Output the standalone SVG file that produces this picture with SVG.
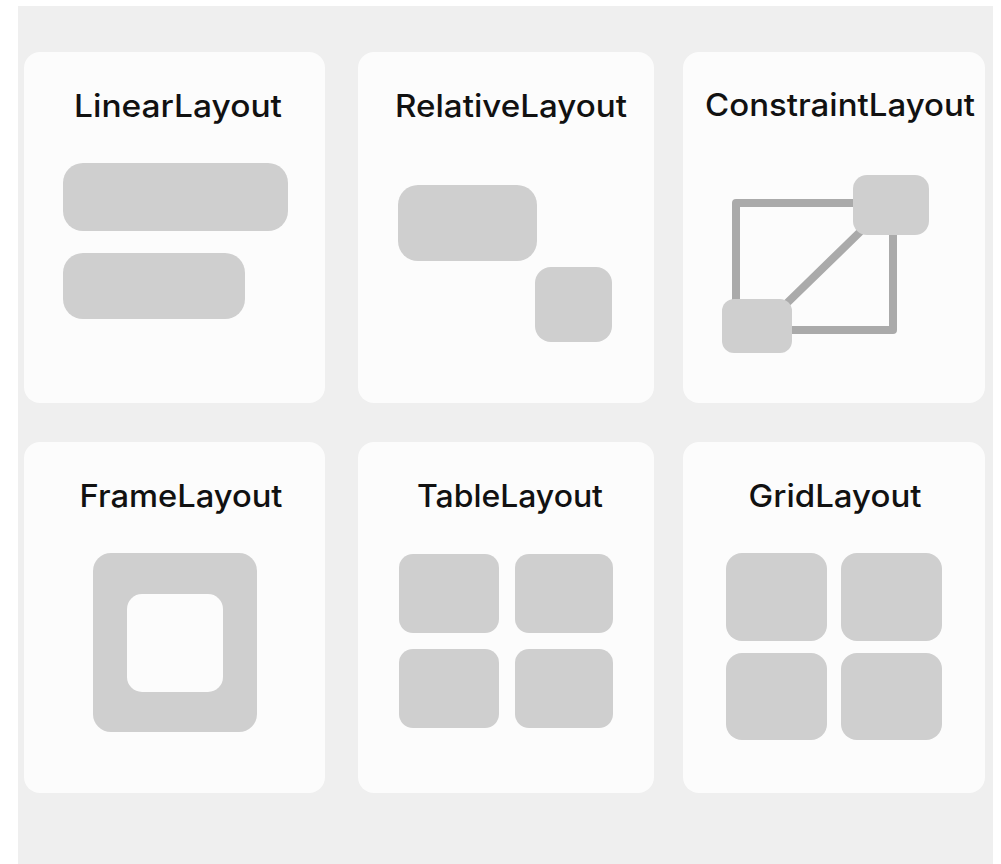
<svg xmlns="http://www.w3.org/2000/svg" width="1001" height="864" viewBox="0 0 1001 864">
<style>
.card{fill:#fcfcfc}
.box{fill:#cfcfcf}
.ttl{font-family:Inter,"Noto Sans","Liberation Sans",sans-serif;font-size:31px;font-weight:500;fill:#111;text-anchor:middle}
.ln{fill:none;stroke:#aaaaaa;stroke-width:8;stroke-linejoin:round;stroke-linecap:round}
</style>
<rect x="0" y="0" width="1001" height="864" fill="#ffffff"/>
<rect x="18" y="6" width="975" height="858" fill="#efefef"/>
<g id="linear">
<rect class="card" x="24" y="52" width="301" height="351" rx="16"/>
<text class="ttl" x="178" y="117" textLength="208" lengthAdjust="spacingAndGlyphs">LinearLayout</text>
<rect class="box" x="63" y="163" width="225" height="68" rx="20"/>
<rect class="box" x="63" y="253" width="182" height="66" rx="20"/>
</g>
<g id="relative">
<rect class="card" x="358" y="52" width="296" height="351" rx="16"/>
<text class="ttl" x="511" y="117" textLength="232" lengthAdjust="spacingAndGlyphs">RelativeLayout</text>
<rect class="box" x="398" y="185" width="139" height="76" rx="20"/>
<rect class="box" x="535" y="267" width="77" height="75" rx="16"/>
</g>
<g id="constraint">
<rect class="card" x="683" y="52" width="302" height="351" rx="16"/>
<text class="ttl" x="840" y="116" textLength="270" lengthAdjust="spacingAndGlyphs">ConstraintLayout</text>
<g id="connectors">
<rect class="ln" x="736" y="203" width="157" height="127"/>
<line class="ln" x1="785" y1="305" x2="862" y2="230"/>
</g>
<rect class="box" x="853" y="175" width="76" height="60" rx="14"/>
<rect class="box" x="722" y="299" width="70" height="54" rx="12"/>
</g>
<g id="frame">
<rect class="card" x="24" y="442" width="301" height="351" rx="16"/>
<text class="ttl" x="181" y="507" textLength="203" lengthAdjust="spacingAndGlyphs">FrameLayout</text>
<rect class="box" x="93" y="553" width="164" height="179" rx="18"/>
<rect class="card" x="127" y="594" width="96" height="98" rx="15"/>
</g>
<g id="table">
<rect class="card" x="358" y="442" width="296" height="351" rx="16"/>
<text class="ttl" x="510" y="507" textLength="186" lengthAdjust="spacingAndGlyphs">TableLayout</text>
<rect class="box" x="399" y="554" width="100" height="79" rx="14"/>
<rect class="box" x="515" y="554" width="98" height="79" rx="14"/>
<rect class="box" x="399" y="649" width="100" height="79" rx="14"/>
<rect class="box" x="515" y="649" width="98" height="79" rx="14"/>
</g>
<g id="grid">
<rect class="card" x="683" y="442" width="302" height="351" rx="16"/>
<text class="ttl" x="835" y="507" textLength="173" lengthAdjust="spacingAndGlyphs">GridLayout</text>
<rect class="box" x="726" y="553" width="101" height="88" rx="16"/>
<rect class="box" x="841" y="553" width="101" height="88" rx="16"/>
<rect class="box" x="726" y="653" width="101" height="87" rx="16"/>
<rect class="box" x="841" y="653" width="101" height="87" rx="16"/>
</g>
</svg>
